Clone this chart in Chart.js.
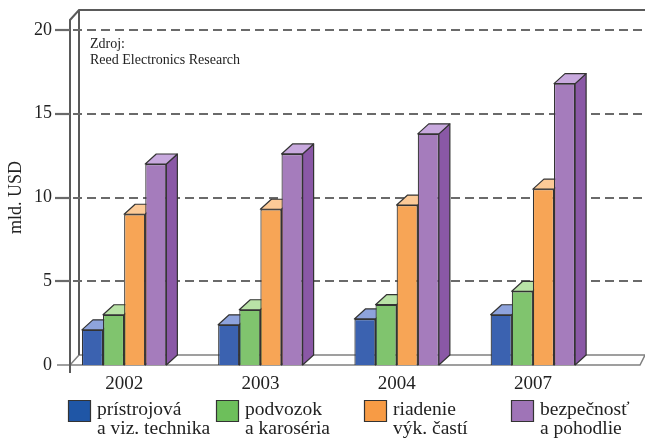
<!DOCTYPE html>
<html>
<head>
<meta charset="utf-8">
<script src="https://cdn.jsdelivr.net/npm/chart.js@4/dist/chart.umd.min.js"></script>
<style>
    body { margin: 0; background: #fff; }
    #wrap { width: 645px; height: 440px; position: relative; }
</style>
</head>
<body>
<div id="wrap"><canvas id="chart"></canvas></div>
<script>
// údaje z grafu (mld. USD)
const years = ['2002', '2003', '2004', '2007'];
const seriesNames = [
    'prístrojová\na viz. technika',
    'podvozok\na karoséria',
    'riadenie\nvýk. častí',
    'bezpečnosť\na pohodlie'
];
const instruments = [2.1, 2.4, 2.75, 3.0];
const chassis = [3.0, 3.3, 3.6, 4.4];
const powertrain = [9.0, 9.3, 9.55, 10.5];
const safety = [12.0, 12.6, 13.8, 16.8];
const yTicks = [0, 5, 10, 15, 20];

// farby: predná strana, vrch, bok
const fronts = ['#3b62b0', '#80c46e', '#f7a556', '#a57cbc'];
const tops = ['#8ea3dc', '#b8e2a6', '#fcca97', '#c8a9de'];
const sides = ['#284b90', '#5ea64e', '#df893a', '#8a58a6'];
const legendColors = ['#1f56a6', '#6dbf5b', '#f79b45', '#9f74b7'];

const DX = 11, DY = -10;

// pozadie, mriežka a 3D strany stĺpcov
const box3d = {
    id: 'box3d',
    beforeDatasetsDraw(chart) {
        const ctx = chart.ctx;
        const y = chart.scales.y;
        const W = chart.width;
        const axisX = 70;
        const floorY = y.getPixelForValue(0);
        const topY = y.getPixelForValue(20) - 20;

        ctx.save();
        // podlaha
        ctx.strokeStyle = '#808080';
        ctx.lineWidth = 1.5;
        ctx.beginPath();
        ctx.moveTo(57, floorY);
        ctx.lineTo(640, floorY);
        ctx.lineTo(645, floorY + DY);
        ctx.moveTo(axisX + 9, floorY + DY);
        ctx.lineTo(W, floorY + DY);
        ctx.moveTo(axisX, floorY);
        ctx.lineTo(axisX + 9, floorY + DY);
        ctx.stroke();

        // zadná stena
        ctx.strokeStyle = '#5a5a5a';
        ctx.lineWidth = 2;
        ctx.beginPath();
        ctx.moveTo(axisX, floorY + 8);
        ctx.lineTo(axisX, topY + 10);
        ctx.lineTo(axisX + 9, topY);
        ctx.lineTo(W, topY);
        ctx.moveTo(axisX + 9, topY);
        ctx.lineTo(axisX + 9, floorY + DY);
        ctx.stroke();

        // mriežka
        yTicks.forEach(v => {
            if (v === 0) return;
            const py = Math.round(y.getPixelForValue(v));
            ctx.strokeStyle = '#6a6a6a';
            ctx.lineWidth = 2.2;
            ctx.setLineDash([]);
            ctx.beginPath();
            ctx.moveTo(55, py);
            ctx.lineTo(axisX, py);
            ctx.stroke();
            ctx.setLineDash([9, 5]);
            ctx.beginPath();
            ctx.moveTo(axisX + 3, py);
            ctx.lineTo(W, py);
            ctx.stroke();
        });
        ctx.setLineDash([]);

        // vrch a bok každého stĺpca
        chart.data.datasets.forEach((ds, i) => {
            const meta = chart.getDatasetMeta(i);
            meta.data.forEach(bar => {
                const l = bar.x - bar.width / 2;
                const r = bar.x + bar.width / 2;
                const t = bar.y;
                const b = bar.base;
                ctx.lineWidth = 1.2;
                ctx.strokeStyle = '#333';
                ctx.lineJoin = 'round';
                ctx.fillStyle = sides[i];
                ctx.beginPath();
                ctx.moveTo(r, b);
                ctx.lineTo(r + DX, b + DY);
                ctx.lineTo(r + DX, t + DY);
                ctx.lineTo(r, t);
                ctx.closePath();
                ctx.fill();
                ctx.stroke();
                ctx.fillStyle = tops[i];
                ctx.beginPath();
                ctx.moveTo(l, t);
                ctx.lineTo(l + DX, t + DY);
                ctx.lineTo(r + DX, t + DY);
                ctx.lineTo(r, t);
                ctx.closePath();
                ctx.fill();
                ctx.stroke();
            });
        });
        ctx.restore();
    },
    afterDraw(chart) {
        const ctx = chart.ctx;
        ctx.save();
        // zdroj
        ctx.fillStyle = '#222';
        ctx.font = '14px "Liberation Serif"';
        ctx.textBaseline = 'alphabetic';
        ctx.fillText('Zdroj:', 90, 48);
        ctx.fillText('Reed Electronics Research', 90, 64);

        // legenda
        const xs = [68, 216, 364, 511];
        ctx.font = '19.5px "Liberation Serif"';
        chart.data.datasets.forEach((ds, i) => {
            const x = xs[i];
            ctx.fillStyle = legendColors[i];
            ctx.strokeStyle = '#333';
            ctx.lineWidth = 1.2;
            ctx.beginPath();
            ctx.rect(x + 0.5, 400.5, 22, 21);
            ctx.fill();
            ctx.stroke();
            ctx.fillStyle = '#222';
            ds.label.split('\n').forEach((line, k) => {
                ctx.fillText(line, x + 29, 415 + k * 19);
            });
        });
        ctx.restore();
    }
};

const ctx = document.getElementById('chart').getContext('2d');
new Chart(ctx, {
    type: 'bar',
    data: {
        labels: years,
        datasets: [instruments, chassis, powertrain, safety].map((d, i) => ({
            label: seriesNames[i],
            data: d,
            backgroundColor: fronts[i],
            borderColor: '#333',
            borderWidth: 1.2,
            categoryPercentage: 0.62,
            barPercentage: 1.0
        }))
    },
    options: {
        responsive: true,
        maintainAspectRatio: false,
        animation: false,
        layout: { padding: { top: 30, right: 44, bottom: 0, left: 0 } },
        plugins: {
            legend: { display: false },
            tooltip: { enabled: false }
        },
        scales: {
            x: {
                grid: { display: false, drawTicks: false },
                border: { display: false },
                ticks: {
                    color: '#222',
                    padding: 8,
                    font: { family: 'Liberation Serif', size: 19 }
                },
                afterFit(scale) { scale.height = 75; }
            },
            y: {
                min: 0,
                max: 20,
                afterBuildTicks(scale) {
                    scale.ticks = yTicks.map(v => ({ value: v }));
                },
                grid: { display: false, drawTicks: false },
                border: { display: false },
                ticks: {
                    color: '#222',
                    padding: 4,
                    font: { family: 'Liberation Serif', size: 18 }
                },
                title: {
                    display: true,
                    text: 'mld. USD',
                    color: '#222',
                    padding: { top: 5, bottom: 0 },
                    font: { family: 'Liberation Serif', size: 18 }
                },
                afterFit(scale) { scale.width = 56; }
            }
        }
    },
    plugins: [box3d]
});
</script>
</body>
</html>
